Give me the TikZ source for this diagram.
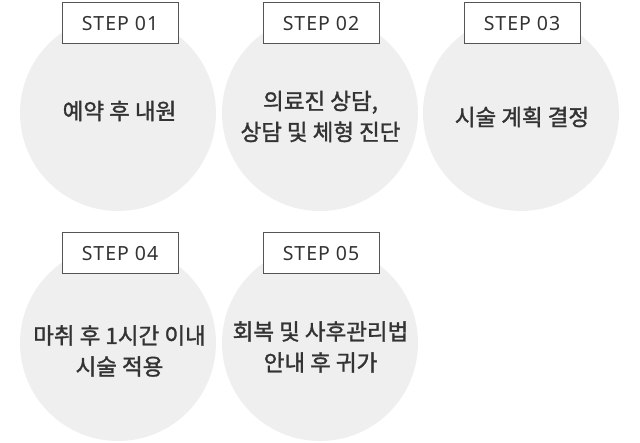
\documentclass[tikz,border=0pt]{standalone}
\usepackage{fontspec}
\setmainfont{Noto Sans}[LetterSpace=5]
\newfontfamily\kofont{Noto Sans CJK KR}[FakeBold=1.4]
\definecolor{circfill}{HTML}{EFEFEF}
\definecolor{boxline}{HTML}{555555}
\definecolor{txt}{HTML}{333333}
\begin{document}
\begin{tikzpicture}[x=1pt,y=1pt,
  circ/.style={circle,fill=circfill,minimum size=196pt,inner sep=0pt},
  stepbox/.style={draw=boxline,line width=1pt,fill=white,minimum width=116pt,minimum height=41pt,inner sep=0pt,font=\fontsize{19.5}{22}\selectfont,text=txt},
  lbl/.style={align=center,text=txt,font=\kofont\fontsize{22.5}{31}\selectfont,inner sep=0pt}]
\useasboundingbox (0,0) rectangle (640,442);
% circles
\node[circ] (c1) at (118,329) {};
\node[circ] (c2) at (320,329) {};
\node[circ] (c3) at (521,329) {};
\node[circ] (c4) at (118,99) {};
\node[circ] (c5) at (320,99) {};
% step boxes
\node[stepbox] (s1) at (120,418.5) {STEP 01};
\node[stepbox] (s2) at (321,418.5) {STEP 02};
\node[stepbox] (s3) at (522,418.5) {STEP 03};
\node[stepbox] (s4) at (120,188.8) {STEP 04};
\node[stepbox] (s5) at (321,188.8) {STEP 05};
% labels
\node[lbl] (t1) at (119.5,331) {예약 후 내원};
\node[lbl] (t2) at (320.5,325.5) {의료진 상담,\\상담 및 체형 진단};
\node[lbl] (t3) at (522,325) {시술 계획 결정};
\node[lbl] (t4) at (119.5,91) {마취 후 1시간 이내\\시술 적용};
\node[lbl] (t5) at (320.5,95) {회복 및 사후관리법\\안내 후 귀가};
\end{tikzpicture}
\end{document}
